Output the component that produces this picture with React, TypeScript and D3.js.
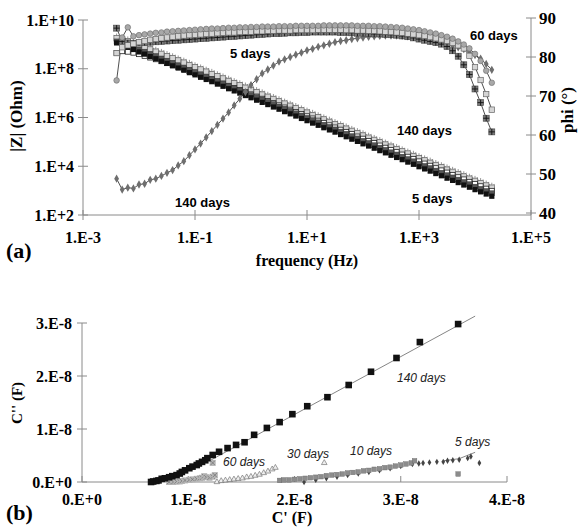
import React from 'react';
import * as d3 from 'd3';

// ---- panel (a): |Z| and phi vs frequency ----
// frequency as log10(Hz)
const logFreq = [-2.4,-2.3,-2.2,-2.1,-2.0,-1.9,-1.8,-1.7,-1.6,-1.5,-1.4,-1.3,-1.2,-1.1,-1.0,-0.9,-0.8,-0.7,-0.6,-0.5,-0.4,-0.3,-0.2,-0.1,0.0,0.1,0.2,0.3,0.4,0.5,0.6,0.7,0.8,0.9,1.0,1.1,1.2,1.3,1.4,1.5,1.6,1.7,1.8,1.9,2.0,2.1,2.2,2.3,2.4,2.5,2.6,2.7,2.8,2.9,3.0,3.1,3.2,3.3,3.4,3.5,3.6,3.7,3.8,3.9,4.0,4.1,4.2,4.3];

// log10 |Z| (Ohm)
const logZ5d = [9.06,8.98,8.88,8.79,8.69,8.60,8.50,8.41,8.31,8.22,8.12,8.03,7.94,7.84,7.75,7.65,7.56,7.47,7.37,7.28,7.18,7.09,7.00,6.90,6.81,6.71,6.62,6.53,6.43,6.34,6.24,6.15,6.06,5.96,5.87,5.77,5.68,5.58,5.49,5.40,5.30,5.21,5.11,5.02,4.92,4.83,4.74,4.64,4.55,4.45,4.36,4.27,4.17,4.08,3.98,3.89,3.80,3.70,3.61,3.51,3.42,3.33,3.23,3.14,3.04,2.95,2.86,2.77];
const logZ10d = [9.12,9.05,8.97,8.88,8.79,8.70,8.61,8.52,8.42,8.33,8.24,8.14,8.05,7.96,7.86,7.77,7.68,7.58,7.49,7.39,7.30,7.21,7.11,7.02,6.92,6.83,6.74,6.64,6.55,6.45,6.36,6.27,6.17,6.08,5.98,5.89,5.80,5.70,5.61,5.51,5.42,5.33,5.23,5.14,5.04,4.95,4.86,4.76,4.67,4.57,4.48,4.39,4.29,4.20,4.10,4.01,3.92,3.82,3.73,3.63,3.54,3.45,3.35,3.26,3.16,3.07,2.98,2.89];
const logZ30d = [8.65,8.72,8.70,8.66,8.60,8.53,8.46,8.39,8.31,8.23,8.15,8.07,7.99,7.90,7.82,7.73,7.65,7.56,7.47,7.39,7.30,7.21,7.13,7.04,6.95,6.86,6.77,6.68,6.59,6.50,6.41,6.32,6.23,6.14,6.05,5.96,5.87,5.78,5.68,5.59,5.50,5.41,5.32,5.22,5.13,5.04,4.95,4.85,4.76,4.67,4.58,4.48,4.39,4.30,4.20,4.11,4.02,3.92,3.83,3.74,3.64,3.55,3.46,3.36,3.27,3.18,3.08,2.99];
const logZ60d = [9.25,9.20,9.13,9.05,8.97,8.88,8.79,8.70,8.61,8.52,8.43,8.34,8.25,8.15,8.06,7.97,7.88,7.78,7.69,7.60,7.50,7.41,7.32,7.22,7.13,7.04,6.94,6.85,6.76,6.66,6.57,6.48,6.38,6.29,6.20,6.10,6.01,5.92,5.82,5.73,5.64,5.54,5.45,5.36,5.26,5.17,5.08,4.98,4.89,4.80,4.70,4.61,4.52,4.42,4.33,4.24,4.14,4.05,3.96,3.86,3.77,3.68,3.58,3.49,3.40,3.30,3.21,3.12];
const logZ140d = [9.31,9.26,9.19,9.11,9.03,8.95,8.86,8.77,8.68,8.59,8.50,8.41,8.32,8.23,8.13,8.04,7.95,7.86,7.76,7.67,7.58,7.48,7.39,7.30,7.20,7.11,7.02,6.92,6.83,6.74,6.64,6.55,6.46,6.36,6.27,6.18,6.08,5.99,5.90,5.80,5.71,5.62,5.52,5.43,5.34,5.24,5.15,5.06,4.96,4.87,4.78,4.68,4.59,4.50,4.40,4.31,4.22,4.12,4.03,3.94,3.84,3.75,3.66,3.56,3.47,3.38,3.28,3.19];

// phase angle (deg)
const phiCircles = [74.0,85.0,87.6,85.3,85.6,85.8,86.0,86.2,86.3,86.5,86.6,86.7,86.8,86.9,87.0,87.1,87.2,87.3,87.3,87.4,87.5,87.5,87.6,87.6,87.7,87.7,87.8,87.8,87.8,87.9,87.9,87.9,88.0,88.0,88.0,88.0,88.0,88.1,88.1,88.1,88.1,88.1,88.1,88.0,88.0,88.0,87.9,87.9,87.8,87.7,87.6,87.5,87.3,87.1,86.9,86.6,86.3,86.0,85.6,85.2,84.7,84.0,83.2,82.2,80.8,79.0,76.5,73.4];
const phiOpenSq = [81.0,82.5,83.0,83.4,83.8,84.1,84.4,84.6,84.8,85.0,85.2,85.3,85.5,85.6,85.7,85.8,85.9,86.0,86.1,86.2,86.3,86.3,86.4,86.5,86.5,86.6,86.6,86.7,86.7,86.8,86.8,86.8,86.9,86.9,86.9,86.9,87.0,87.0,87.0,87.0,87.0,86.9,86.9,86.8,86.8,86.7,86.7,86.6,86.5,86.4,86.3,86.2,86.0,85.8,85.6,85.4,85.1,84.8,84.5,84.1,83.6,83.0,82.2,80.3,77.4,74.1,70.5,66.5];
const phiPlusSq = [87.4,84.0,83.6,83.5,83.6,83.7,83.8,83.9,84.0,84.1,84.2,84.3,84.4,84.5,84.6,84.7,84.8,84.9,85.0,85.1,85.2,85.3,85.4,85.5,85.6,85.7,85.8,85.9,86.0,86.0,86.1,86.2,86.2,86.3,86.3,86.4,86.4,86.4,86.4,86.4,86.3,86.3,86.2,86.1,86.1,86.0,85.9,85.9,85.8,85.7,85.6,85.4,85.2,84.9,84.6,84.3,84.0,83.7,83.3,82.7,81.6,80.2,78.0,75.5,71.8,68.3,64.3,60.8];
const phiDiamonds = [48.8,46.0,46.5,46.3,47.3,47.5,48.5,48.8,49.5,50.3,51.0,52.2,53.3,54.8,56.3,57.8,59.4,61.0,62.6,64.2,65.8,67.6,69.3,71.0,72.8,74.3,75.8,76.8,77.8,78.8,79.4,80.0,80.6,81.1,81.7,82.1,82.6,83.0,83.4,83.8,84.1,84.3,84.6,84.8,85.0,85.2,85.3,85.4,85.5,85.5,85.5,85.4,85.3,85.2,85.0,84.8,84.5,84.2,83.9,83.5,83.0,82.5,82.0,81.3,80.5,79.6,78.2,76.7];

const freqTicks = [1e-3, 1e-1, 1e1, 1e3, 1e5];
const freqLabels = ['1.E-3', '1.E-1', '1.E+1', '1.E+3', '1.E+5'];
const zTicks = [1e2, 1e4, 1e6, 1e8, 1e10];
const zLabels = ['1.E+2', '1.E+4', '1.E+6', '1.E+8', '1.E+10'];
const phiTicks = [40, 50, 60, 70, 80, 90];

// ---- panel (b): C'' vs C' (values in 1e-8 F) ----
const cRe140 = [0.65,0.67,0.70,0.72,0.75,0.78,0.82,0.85,0.89,0.92,0.94,0.97,1.01,1.04,1.08,1.10,1.13,1.16,1.18,1.23,1.29,1.37,1.45,1.53,1.62,1.74,1.86,1.98,2.12,2.31,2.51,2.72,2.96,3.18,3.54];
const cIm140 = [0.00,0.01,0.02,0.03,0.06,0.07,0.09,0.11,0.13,0.16,0.19,0.22,0.26,0.29,0.32,0.35,0.38,0.41,0.45,0.51,0.57,0.64,0.70,0.75,0.89,1.02,1.13,1.28,1.43,1.60,1.83,2.08,2.34,2.64,2.98];
const fitRe140 = [1.2, 3.7];
const fitIm140 = [0.40, 3.13];
const cRe60 = [0.82,0.86,0.89,0.92,0.94,0.97,1.01,1.04,1.08,1.11,1.13,1.15,1.17,1.20,1.23,1.25,1.23];
const cIm60 = [0.00,0.00,0.01,0.01,0.02,0.03,0.04,0.05,0.06,0.07,0.08,0.11,0.09,0.08,0.10,0.13,0.36];
const cRe30 = [1.27,1.31,1.35,1.39,1.43,1.47,1.51,1.55,1.59,1.63,1.67,1.71,1.75,1.79,1.82,2.28];
const cIm30 = [0.00,0.02,0.03,0.04,0.05,0.06,0.07,0.09,0.10,0.12,0.14,0.17,0.20,0.24,0.27,0.36];
const cRe10 = [1.86,1.90,1.95,2.00,2.05,2.10,2.15,2.20,2.25,2.30,2.35,2.40,2.45,2.50,2.55,2.60,2.65,2.70,2.75,2.80,2.85,2.90,2.95,3.00,3.05,3.10,3.13,3.54];
const cIm10 = [0.03,0.04,0.04,0.05,0.06,0.07,0.08,0.09,0.10,0.12,0.13,0.14,0.15,0.17,0.18,0.19,0.21,0.22,0.24,0.25,0.27,0.28,0.30,0.32,0.34,0.36,0.40,0.15];
const cRe5 = [2.09,2.20,2.30,2.40,2.50,2.60,2.70,2.80,2.90,3.00,3.11,3.17,3.21,3.27,3.34,3.40,3.44,3.49,3.55,3.63,3.66,3.74];
const cIm5 = [0.00,0.04,0.07,0.10,0.13,0.16,0.19,0.22,0.26,0.30,0.34,0.35,0.36,0.37,0.38,0.38,0.40,0.41,0.42,0.45,0.48,0.36];
const fitRe5 = [3.40, 3.55, 3.70];
const fitIm5 = [0.40, 0.44, 0.56];

const cReTicks = [0, 1, 2, 3, 4];
const cReLabels = ['0.E+0', '1.E-8', '2.E-8', '3.E-8', '4.E-8'];
const cImTicks = [0, 1, 2, 3];
const cImLabels = ['0.E+0', '1.E-8', '2.E-8', '3.E-8'];

const serif = '"Liberation Serif", "Times New Roman", serif';
const sans = '"Liberation Sans", Arial, sans-serif';
const axisCol = '#8a8a8a';

const diamondPath = d3.symbol(d3.symbolDiamond, 20)();
const smallDiamond = d3.symbol(d3.symbolDiamond, 12)();
const asteriskPath = d3.symbol(d3.symbolAsterisk, 30)();
const plusPath = d3.symbol(d3.symbolPlus, 14)();
const timesPath = d3.symbol(d3.symbolTimes, 14)();
const trianglePath = d3.symbol(d3.symbolTriangle, 14)();

function Marker({ kind, cx, cy }) {
  const t = `translate(${cx},${cy})`;
  switch (kind) {
    case 'sqBlack':
      return <rect x={cx - 2.6} y={cy - 2.6} width={5.2} height={5.2} fill="#111" />;
    case 'sqDark':
      return <rect x={cx - 2.5} y={cy - 2.5} width={5} height={5} fill="#555" stroke="#333" strokeWidth={0.5} />;
    case 'sqOpen':
      return <rect x={cx - 2.5} y={cy - 2.5} width={5} height={5} fill="#fff" stroke="#222" strokeWidth={0.8} />;
    case 'sqLight':
      return <rect x={cx - 2.7} y={cy - 2.7} width={5.4} height={5.4} fill="#d4d4d4" stroke="#666" strokeWidth={0.7} />;
    case 'circGrey':
      return <circle cx={cx} cy={cy} r={2.8} fill="#a8a8a8" stroke="#6a6a6a" strokeWidth={0.6} />;
    case 'star':
      return <path d={asteriskPath} transform={t} fill="none" stroke="#999" strokeWidth={1} />;
    case 'sqPlus':
      return (
        <g transform={t}>
          <rect x={-3} y={-3} width={6} height={6} fill="#7a7a7a" stroke="#444" strokeWidth={0.6} />
          <path d={plusPath} fill="none" stroke="#111" strokeWidth={0.9} />
        </g>
      );
    case 'diamond':
      return <path d={diamondPath} transform={t} fill="#6e6e6e" />;
    case 'bSq140':
      return <rect x={cx - 3.3} y={cy - 3.3} width={6.6} height={6.6} fill="#111" />;
    case 'bSq60':
      return (
        <g transform={t}>
          <rect x={-3} y={-3} width={6} height={6} fill="#b5b5b5" />
          <path d={timesPath} fill="none" stroke="#777" strokeWidth={0.8} />
        </g>
      );
    case 'bTri':
      return <path d={trianglePath} transform={t} fill="#eee" stroke="#777" strokeWidth={0.7} />;
    case 'bSq10':
      return <rect x={cx - 2.3} y={cy - 2.3} width={4.6} height={4.6} fill="#8c8c8c" stroke="#666" strokeWidth={0.4} />;
    case 'bDia':
      return <path d={smallDiamond} transform={t} fill="#444" />;
    default:
      return null;
  }
}

export default function App() {
  // scales, panel (a)
  const x = d3.scaleLog().domain([1e-3, 1e5]).range([83, 531]);
  const yZ = d3.scaleLog().domain([1e2, 1e10]).range([215, 20]);
  const yP = d3.scaleLinear().domain([40, 90]).range([213, 18]);
  // scales, panel (b)
  const xC = d3.scaleLinear().domain([0, 4]).range([82, 507]);
  const yC = d3.scaleLinear().domain([0, 3]).range([482, 323]);

  const line = d3.line();

  const zSeries = [
    { kind: 'star', v: logZ140d },
    { kind: 'sqLight', v: logZ60d },
    { kind: 'sqOpen', v: logZ30d },
    { kind: 'sqDark', v: logZ10d },
    { kind: 'sqBlack', v: logZ5d },
  ];
  const phiSeries = [
    { kind: 'diamond', v: phiDiamonds },
    { kind: 'sqPlus', v: phiPlusSq },
    { kind: 'sqLight', v: phiOpenSq },
    { kind: 'circGrey', v: phiCircles },
  ];
  const cSeries = [
    { kind: 'bDia', re: cRe5, im: cIm5 },
    { kind: 'bSq10', re: cRe10, im: cIm10 },
    { kind: 'bTri', re: cRe30, im: cIm30 },
    { kind: 'bSq60', re: cRe60, im: cIm60 },
    { kind: 'bSq140', re: cRe140, im: cIm140 },
  ];

  const zPts = (v) => logFreq.map((lf, i) => [x(10 ** lf), yZ(10 ** v[i])]);
  const pPts = (v) => logFreq.map((lf, i) => [x(10 ** lf), yP(v[i])]);
  const cPts = (re, im) => re.map((r, i) => [xC(r), yC(im[i])]);

  const tickFont = { fontFamily: serif, fontWeight: 'bold', fontSize: 16 };

  return (
    <svg width={578} height={528} style={{ position: 'absolute', left: 0, top: 0, background: '#fff' }}>
      {/* ===== panel (a) axes ===== */}
      <g stroke={axisCol} strokeWidth={1}>
        <line x1={83} x2={83} y1={20} y2={215} />
        <line x1={531} x2={531} y1={18} y2={215} />
        <line x1={83} x2={531} y1={215} y2={215} />
        {zTicks.map((t) => <line key={'zt' + t} x1={78} x2={88} y1={yZ(t)} y2={yZ(t)} />)}
        {phiTicks.map((t) => <line key={'pt' + t} x1={526} x2={536} y1={yP(t)} y2={yP(t)} />)}
        {freqTicks.map((t) => <line key={'ft' + t} x1={x(t)} x2={x(t)} y1={210} y2={220} />)}
      </g>
      {zTicks.map((t, i) => (
        <text key={'zl' + t} x={74} y={yZ(t)} dy="0.35em" textAnchor="end" style={tickFont}>{zLabels[i]}</text>
      ))}
      {phiTicks.map((t) => (
        <text key={'pl' + t} x={539} y={yP(t)} dy="0.35em" textAnchor="start" style={{ ...tickFont, fontSize: 17 }}>{t}</text>
      ))}
      {freqTicks.map((t, i) => (
        <text key={'fl' + t} x={x(t)} y={243} textAnchor="middle" style={tickFont}>{freqLabels[i]}</text>
      ))}
      <text transform="translate(22,116) rotate(-90)" textAnchor="middle" style={{ ...tickFont, fontSize: 17 }}>|Z| (Ohm)</text>
      <text transform="translate(573,110) rotate(-90)" textAnchor="middle" style={{ ...tickFont, fontSize: 17 }}>phi (°)</text>
      <text x={307} y={266} textAnchor="middle" style={tickFont}>frequency (Hz)</text>
      <text x={6} y={258} style={{ ...tickFont, fontSize: 22 }}>(a)</text>

      {/* ===== panel (a) data ===== */}
      {phiSeries.map((s, si) => (
        <path key={'pline' + si} d={line(pPts(s.v))} fill="none" stroke="#222" strokeWidth={0.8} />
      ))}
      {zSeries.map((s, si) => (
        <path key={'zline' + si} d={line(zPts(s.v))} fill="none" stroke="#222" strokeWidth={0.7} />
      ))}
      {zSeries.map((s, si) => (
        <g key={'zs' + si}>
          {zPts(s.v).map(([cx, cy], i) => <Marker key={i} kind={s.kind} cx={cx} cy={cy} />)}
        </g>
      ))}
      {phiSeries.map((s, si) => (
        <g key={'ps' + si}>
          {pPts(s.v).map(([cx, cy], i) => <Marker key={i} kind={s.kind} cx={cx} cy={cy} />)}
        </g>
      ))}
      <g style={{ fontFamily: sans, fontWeight: 'bold', fontSize: 13 }}>
        <text x={230} y={58}>5 days</text>
        <text x={470} y={40}>60 days</text>
        <text x={397} y={135}>140 days</text>
        <text x={412} y={203}>5 days</text>
        <text x={175} y={207}>140 days</text>
      </g>

      {/* ===== panel (b) axes ===== */}
      <g stroke={axisCol} strokeWidth={1}>
        <line x1={xC(0)} x2={xC(0)} y1={yC(3)} y2={yC(0)} />
        <line x1={xC(0)} x2={xC(4)} y1={yC(0)} y2={yC(0)} />
        {cImTicks.map((t) => <line key={'cit' + t} x1={77} x2={87} y1={yC(t)} y2={yC(t)} />)}
        {cReTicks.map((t) => <line key={'crt' + t} x1={xC(t)} x2={xC(t)} y1={476} y2={482} />)}
      </g>
      {cImTicks.map((t, i) => (
        <text key={'cil' + t} x={72} y={yC(t)} dy="0.35em" textAnchor="end" style={tickFont}>{cImLabels[i]}</text>
      ))}
      {cReTicks.map((t, i) => (
        <text key={'crl' + t} x={xC(t)} y={505} textAnchor="middle" style={tickFont}>{cReLabels[i]}</text>
      ))}
      <text transform="translate(22,403) rotate(-90)" textAnchor="middle" style={{ ...tickFont, fontSize: 15 }}>C'' (F)</text>
      <text x={292} y={523} textAnchor="middle" style={tickFont}>C' (F)</text>
      <text x={6} y={520} style={{ ...tickFont, fontSize: 22 }}>(b)</text>

      {/* ===== panel (b) data ===== */}
      <path d={line(cPts(fitRe140, fitIm140))} fill="none" stroke="#666" strokeWidth={0.8} />
      <path d={line(cPts(fitRe5, fitIm5))} fill="none" stroke="#666" strokeWidth={0.8} />
      {cSeries.map((s, si) => (
        <g key={'cs' + si}>
          {cPts(s.re, s.im).map(([cx, cy], i) => <Marker key={i} kind={s.kind} cx={cx} cy={cy} />)}
        </g>
      ))}
      <g style={{ fontFamily: sans, fontStyle: 'italic', fontSize: 12 }} fill="#222">
        <text x={397} y={382}>140 days</text>
        <text x={223} y={466}>60 days</text>
        <text x={287} y={458}>30 days</text>
        <text x={350} y={455}>10 days</text>
        <text x={455} y={446}>5 days</text>
      </g>
    </svg>
  );
}
